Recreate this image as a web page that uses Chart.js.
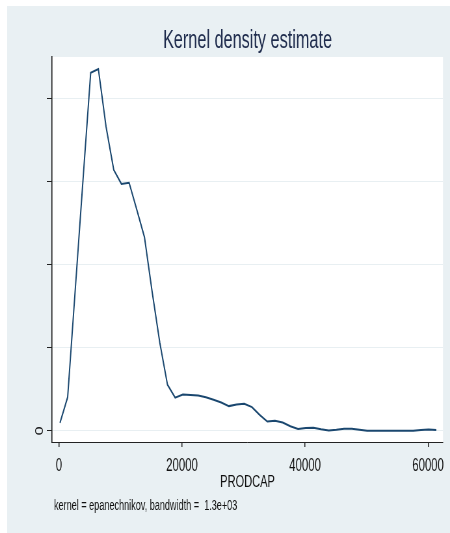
<!DOCTYPE html>
<html>
<head>
<meta charset="utf-8">
<script src="https://cdn.jsdelivr.net/npm/chart.js@4/dist/chart.umd.min.js"></script>
<style>
  html, body { margin: 0; padding: 0; background: #fff; overflow: hidden; }
  #wrap { width: 450px; height: 533px; overflow: hidden; }
  /* the original graph is horizontally squeezed; draw wide, then squeeze */
  #kdChart { transform: scaleX(0.6503); transform-origin: 0 0; }
</style>
</head>
<body>
<div id="wrap"><canvas id="kdChart" width="692" height="533"></canvas></div>
<script>
const FONT = "'Liberation Sans', Arial, sans-serif";

// evaluation points of the estimate (PRODCAP)
const prodcap = [
  161, 1409, 2658, 3906, 5155, 6403, 7651, 8900, 10148, 11397,
  12645, 13893, 15142, 16390, 17638, 18887, 20135, 21384, 22632, 23880,
  25129, 26377, 27626, 28874, 30122, 31371, 32619, 33867, 35116, 36364,
  37613, 38861, 40110, 41358, 42606, 43855, 45103, 46352, 47600, 48848,
  50097, 51345, 52594, 53842, 55090, 56339, 57587, 58836, 60084, 61333
];
// density, in units of 1e-5
const density = [
  0.19, 0.81, 3.43, 6.05, 8.63, 8.72, 7.33, 6.29, 5.95, 5.98,
  5.33, 4.67, 3.35, 2.12, 1.11, 0.80, 0.875, 0.863, 0.85, 0.81,
  0.747, 0.68, 0.595, 0.634, 0.65, 0.571, 0.386, 0.224, 0.241, 0.20,
  0.108, 0.043, 0.065, 0.072, 0.036, 0.007, 0.024, 0.048, 0.048, 0.024,
  0.0, 0.0, 0.0, 0.0, 0.0, 0.0, 0.0, 0.017, 0.029, 0.017
];
const xTicks = [0, 20000, 40000, 60000];
const yTicks = [0, 2, 4, 6, 8];

const points = prodcap.map((x, i) => ({ x: x, y: density[i] }));

// light panel behind the graph, white plot region, footnote
const panelPlugin = {
  id: 'panel',
  beforeDraw(chart) {
    const ctx = chart.ctx;
    const a = chart.chartArea;
    ctx.save();
    ctx.fillStyle = '#ffffff';
    ctx.fillRect(0, 0, chart.width, chart.height);
    ctx.fillStyle = '#e9f0f3';
    ctx.fillRect(11, 6, chart.width - 11, chart.height - 6);
    ctx.fillStyle = '#ffffff';
    ctx.fillRect(a.left, a.top, a.right - a.left, a.bottom - a.top);
    ctx.restore();
  },
  afterDraw(chart) {
    const ctx = chart.ctx;
    ctx.save();
    ctx.fillStyle = '#111111';
    ctx.font = '14px ' + FONT;
    ctx.textBaseline = 'middle';
    ctx.textAlign = 'left';
    ctx.fillText('kernel = epanechnikov, bandwidth =  1.3e+03', 83, 506);
    ctx.restore();
  }
};

new Chart(document.getElementById('kdChart'), {
  type: 'line',
  data: {
    datasets: [{
      label: 'density',
      data: points,
      borderColor: '#1a476f',
      borderWidth: 2,
      pointRadius: 0,
      fill: false,
      tension: 0
    }]
  },
  options: {
    responsive: false,
    animation: false,
    devicePixelRatio: 1,
    layout: { padding: { left: 0, right: 5, top: 0, bottom: 0 } },
    plugins: {
      legend: { display: false },
      tooltip: { enabled: false },
      title: {
        display: true,
        text: 'Kernel density estimate',
        fullSize: false,
        color: '#1e2b4c',
        font: { family: FONT, size: 25, weight: 'normal' },
        padding: { top: 26, bottom: 1 }
      }
    },
    scales: {
      x: {
        type: 'linear',
        min: -1130,
        max: 62430,
        afterBuildTicks(scale) { scale.ticks = xTicks.map(v => ({ value: v })); },
        afterFit(scale) { scale.height = 91; },
        border: { color: '#222222', width: 1 },
        grid: { drawOnChartArea: false, tickColor: '#222222', tickLength: 5, lineWidth: 1.5 },
        ticks: {
          color: '#111111',
          padding: 9,
          maxRotation: 0,
          font: { family: FONT, size: 17.5 },
          callback: v => String(v)
        },
        title: {
          display: true,
          text: 'PRODCAP',
          color: '#111111',
          font: { family: FONT, size: 17 },
          padding: { top: 0, bottom: 40 }
        }
      },
      y: {
        type: 'linear',
        min: -0.27,
        max: 9.01,
        afterBuildTicks(scale) { scale.ticks = yTicks.map(v => ({ value: v })); },
        afterFit(scale) { scale.width = 80; },
        border: { color: '#222222', width: 1.6 },
        grid: { color: '#e8eff2', lineWidth: 1, tickColor: '#222222', tickLength: 8 },
        ticks: {
          color: '#111111',
          padding: 6,
          minRotation: 90,
          maxRotation: 90,
          crossAlign: 'center',
          font: { family: FONT, size: 16 },
          callback: v => (v === 0 ? '0' : '')
        }
      }
    }
  },
  plugins: [panelPlugin]
});
</script>
</body>
</html>
